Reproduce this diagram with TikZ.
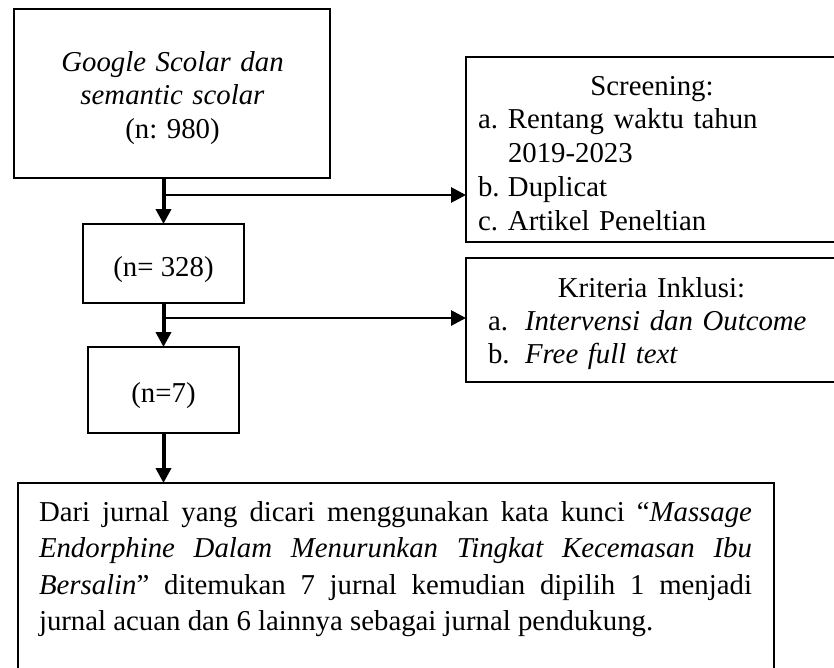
\documentclass[tikz,border=0pt]{standalone}
\usepackage{fontspec}
\setmainfont{Liberation Serif}
\usetikzlibrary{arrows.meta}
\frenchspacing
\begin{document}
\begin{tikzpicture}[x=1pt,y=-1pt,
  box/.style={draw, line width=2.6pt, inner sep=0pt, outer sep=0pt, anchor=north west},
  txt/.style={inner sep=0pt, outer sep=0pt, font=\fontsize{28.8}{33.5}\selectfont},
  vflow/.style={line width=4pt, -{Triangle[width=15pt,length=15pt]}},
  hflow/.style={line width=2.8pt, -{Triangle[width=15pt,length=15pt]}}]
\useasboundingbox (0,0) rectangle (834,667);
\clip (0,0) rectangle (834,667);
\fill[white] (0,0) rectangle (834,667);

% boxes
\node[box, minimum width=316pt, minimum height=169pt] (b1) at (14,9) {};
\node[box, minimum width=161pt, minimum height=79pt] (b2) at (83,224) {};
\node[box, minimum width=151pt, minimum height=86pt] (b3) at (88,347) {};
\node[box, minimum width=380pt, minimum height=185pt] (scr) at (466,57) {};
\node[box, minimum width=380pt, minimum height=124pt] (kri) at (466,258) {};
\node[box, minimum width=756pt, minimum height=200pt] (res) at (18,483) {};

% texts
\node[txt, text width=300pt, align=center, anchor=base] (t1) at (172.5,71)
  {\textit{Google Scolar dan}\\ \textit{semantic scolar}\\ (n: 980)};
\node[txt, anchor=base] (t2) at (163.5,276) {(n= 328)};
\node[txt, anchor=base] (t3) at (163.5,402) {(n=7)};
\node[txt, text width=348pt, align=left, anchor=base west,
  font=\fontsize{28.8}{33.75}\selectfont] (st) at (478,95)
  {\makebox[\linewidth]{Screening:}\\
   \makebox[30pt][l]{a.}Rentang waktu tahun\\
   \hspace*{30pt}2019-2023\\
   \makebox[30pt][l]{b.}Duplicat\\
   \makebox[30pt][l]{c.}Artikel Peneltian};
\node[txt, text width=327pt, align=left, anchor=base west,
  font=\fontsize{28.8}{33.3}\selectfont] (kt) at (488,297)
  {\makebox[\linewidth]{Kriteria Inklusi:}\\
   \makebox[37pt][l]{a.}\textit{Intervensi dan Outcome}\\
   \makebox[37pt][l]{b.}\textit{Free full text}};
\node[txt, text width=713pt, align=justify, anchor=base west,
  font=\fontsize{28.8}{36.3}\selectfont] (rt) at (39,521.5)
  {\tolerance=10000 \hyphenpenalty=10000 Dari jurnal yang dicari menggunakan kata kunci “\textit{Massage}\linebreak
   \textit{Endorphine Dalam Menurunkan Tingkat Kecemasan Ibu}\linebreak
   \textit{Bersalin}” ditemukan 7 jurnal kemudian dipilih 1 menjadi\linebreak
   jurnal acuan dan 6 lainnya sebagai jurnal pendukung.};

% connectors
\coordinate (j1) at (163.5,195);
\coordinate (j2) at (163.5,318);
\draw[vflow] (b2.north |- b1.south) -- (b2.north);
\draw[hflow] (j1) -- (j1 -| scr.west);
\draw[vflow] (b3.north |- b2.south) -- (b3.north);
\draw[hflow] (j2) -- (j2 -| kri.west);
\draw[vflow] (b3.south) -- (b3.south |- res.north);
\end{tikzpicture}
\end{document}
